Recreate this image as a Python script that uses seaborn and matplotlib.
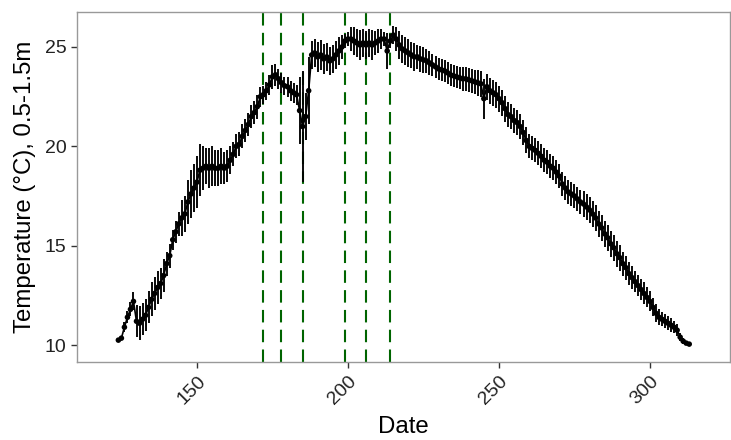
import numpy as np
import pandas as pd
import matplotlib
matplotlib.use("Agg")
import matplotlib.pyplot as plt
import seaborn as sns

days = list(range(124, 314))
temp_mean = [
    10.25, 10.35, 10.9, 11.4, 11.8, 12.2, 11.2, 11.1, 11.3, 11.5,   # 124-133
    11.9, 12.3, 12.6, 12.9, 13.1, 13.5, 14.1, 14.5, 15.3, 15.7,     # 134-143
    16.1, 16.4, 16.6, 17.2, 17.6, 17.9, 18.2, 18.8, 18.9, 19.0,     # 144-153
    18.9, 19.0, 18.9, 18.9, 19.0, 18.9, 19.0, 19.3, 19.6, 20.0,     # 154-163
    20.1, 20.5, 20.8, 21.1, 21.5, 21.7, 22.0, 22.5, 22.6, 22.8,     # 164-173
    23.1, 23.5, 23.6, 23.4, 23.2, 23.05, 23.0, 22.8, 22.7, 22.6,    # 174-183
    21.8, 21.0, 21.5, 22.8, 24.6, 24.7, 24.5, 24.6, 24.4, 24.5,     # 184-193
    24.3, 24.4, 24.6, 24.8, 25.0, 25.3, 25.4, 25.4, 25.3, 25.2,     # 194-203
    25.1, 25.2, 25.1, 25.2, 25.1, 25.2, 25.3, 25.4, 25.4, 24.8,     # 204-213
    25.3, 25.6, 25.4, 25.1, 24.9, 24.8, 24.7, 24.6, 24.5, 24.5,     # 214-223
    24.4, 24.35, 24.3, 24.2, 24.1, 24.0, 23.9, 23.85, 23.8, 23.7,   # 224-233
    23.6, 23.55, 23.5, 23.45, 23.4, 23.4, 23.35, 23.3, 23.25, 23.2, # 234-243
    23.15, 22.4, 23.0, 22.8, 22.7, 22.6, 22.4, 22.2, 21.9, 21.6,    # 244-253
    21.5, 21.3, 21.2, 21.0, 20.7, 20.3, 20.0, 19.9, 19.8, 19.65,    # 254-263
    19.5, 19.3, 19.2, 19.0, 18.9, 18.7, 18.5, 18.1, 17.9, 17.7,     # 264-273
    17.6, 17.5, 17.35, 17.2, 17.1, 16.95, 16.8, 16.6, 16.4, 16.1,   # 274-283
    15.9, 15.6, 15.4, 15.1, 14.9, 14.6, 14.4, 14.1, 13.9, 13.6,     # 284-293
    13.4, 13.2, 13.0, 12.8, 12.6, 12.4, 12.2, 11.9, 11.6, 11.4,     # 294-303
    11.3, 11.2, 11.1, 11.0, 10.9, 10.75, 10.4, 10.2, 10.1, 10.05,   # 304-313
]
temp_err = [
    0.1, 0.1, 0.25, 0.3, 0.35, 0.45, 0.8, 0.85, 0.8, 0.8,
    0.8, 0.85, 0.85, 0.85, 0.8, 0.85, 0.6, 0.6, 0.5, 0.55,
    0.6, 0.9, 0.9, 1.1, 1.2, 1.2, 1.3, 1.3, 1.1, 0.9,
    1.0, 1.0, 0.9, 0.9, 0.9, 0.8, 0.8, 0.7, 0.6, 0.6,
    0.6, 0.6, 0.6, 0.6, 0.6, 0.6, 0.6, 0.5, 0.45, 0.45,
    0.5, 0.6, 0.55, 0.5, 0.5, 0.45, 0.5, 0.5, 0.5, 0.5,
    1.7, 2.8, 1.2, 1.7, 0.7, 0.7, 0.75, 0.75, 0.75, 0.7,
    0.7, 0.7, 0.7, 0.7, 0.6, 0.35, 0.35, 0.6, 0.7, 0.7,
    0.75, 0.7, 0.7, 0.7, 0.75, 0.6, 0.6, 0.5, 0.35, 0.9,
    0.35, 0.45, 0.6, 0.7, 0.7, 0.7, 0.7, 0.65, 0.7, 0.6,
    0.65, 0.65, 0.6, 0.6, 0.55, 0.55, 0.55, 0.55, 0.55, 0.55,
    0.55, 0.55, 0.55, 0.55, 0.6, 0.6, 0.6, 0.6, 0.6, 0.65,
    0.65, 1.0, 0.65, 0.65, 0.65, 0.65, 0.65, 0.65, 0.65, 0.65,
    0.65, 0.65, 0.65, 0.65, 0.65, 0.65, 0.6, 0.6, 0.6, 0.6,
    0.6, 0.6, 0.6, 0.6, 0.6, 0.6, 0.6, 0.6, 0.6, 0.6,
    0.6, 0.6, 0.6, 0.6, 0.65, 0.65, 0.65, 0.65, 0.65, 0.65,
    0.65, 0.65, 0.65, 0.65, 0.65, 0.65, 0.65, 0.6, 0.6, 0.6,
    0.6, 0.55, 0.55, 0.55, 0.55, 0.5, 0.5, 0.45, 0.45, 0.4,
    0.35, 0.35, 0.35, 0.35, 0.3, 0.3, 0.2, 0.15, 0.1, 0.1,
]
event_days = [172, 178, 185, 199, 206, 214]
x_ticks = [150, 200, 250, 300]
y_ticks = [10, 15, 20, 25]

df = pd.DataFrame({"Date": days, "Temp": temp_mean, "err": temp_err})

sns.set_style("white")
plt.rcParams["font.family"] = ["Liberation Sans", "DejaVu Sans"]

fig = plt.figure(figsize=(7.31, 4.40), dpi=100)
ax = fig.add_axes([77 / 731, 78 / 440, 653 / 731, 350 / 440])

for d in event_days:
    ax.axvline(d, color="#006400", lw=1.5, dashes=(6, 3.5), zorder=1)

ax.errorbar(df["Date"], df["Temp"], yerr=df["err"], fmt="none",
            ecolor="black", elinewidth=1.35, capsize=0, zorder=2)
sns.lineplot(data=df, x="Date", y="Temp", color="black", lw=1.2, ax=ax, zorder=3)
sns.scatterplot(data=df, x="Date", y="Temp", color="black", s=16,
                edgecolor="none", ax=ax, zorder=4)

ax.set_xlim(110.3, 326.5)
ax.set_ylim(9.15, 26.76)
ax.set_xticks(x_ticks)
ax.set_yticks(y_ticks)
ax.tick_params(axis="both", which="both", direction="out", length=4.5, width=1,
               color="#333333", labelsize=14, labelcolor="#222222", pad=3,
               bottom=True, left=True)
plt.setp(ax.get_xticklabels(), rotation=45, ha="right", rotation_mode="anchor")
for s in ax.spines.values():
    s.set_color("#999999")
    s.set_linewidth(1.0)
ax.set_xlabel("Date", fontsize=17.3, color="black", labelpad=6)
ax.set_ylabel("Temperature (°C), 0.5-1.5m", fontsize=17.3, color="black", labelpad=6)

fig.savefig("out.png", dpi=100)
